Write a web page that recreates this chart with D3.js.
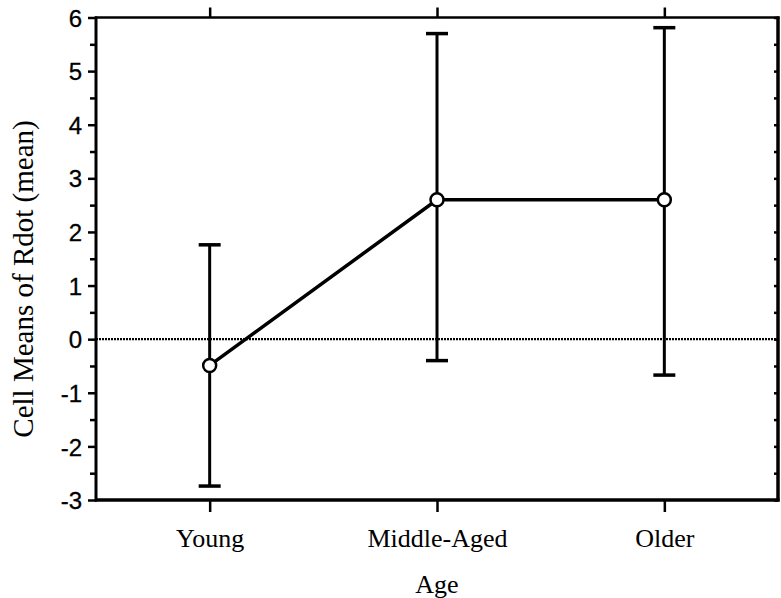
<!DOCTYPE html>
<html>
<head>
<meta charset="utf-8">
<script src="https://cdn.jsdelivr.net/npm/d3@7"></script>
<style>
  html, body { margin: 0; padding: 0; background: #fff; }
  svg { display: block; }
</style>
</head>
<body>
<svg id="chart" width="781" height="598"></svg>
<script>
const categories = ["Young", "Middle-Aged", "Older"];
const means = [-0.49, 2.6, 2.6];
const upper = [1.76, 5.7, 5.81];
const lower = [-2.74, -0.4, -0.67];
const yTicks = [-3, -2, -1, 0, 1, 2, 3, 4, 5, 6];
const yMinorTicks = [-2.5, -1.5, -0.5, 0.5, 1.5, 2.5, 3.5, 4.5, 5.5];
const xTitle = "Age";
const yTitle = "Cell Means of Rdot (mean)";

const svg = d3.select("#chart");
const pLeft = 96, pRight = 778, pTop = 17.5, pBottom = 500;

const x = d3.scalePoint().domain(categories).range([pLeft, pRight]).padding(0.5);
const y = d3.scaleLinear().domain([-3, 6]).range([pBottom, pTop]);

const serif = "'Liberation Serif', 'Times New Roman', serif";
const sans = "'Liberation Sans', Arial, Helvetica, sans-serif";

// zero reference line
svg.append("line")
  .attr("x1", pLeft).attr("x2", pRight)
  .attr("y1", y(0)).attr("y2", y(0))
  .attr("stroke", "#000").attr("stroke-width", 2.4)
  .attr("stroke-dasharray", "2,1");

// left axis
const yAxis = d3.axisLeft(y).tickValues(yTicks).tickSize(8).tickPadding(6).tickFormat(d => String(d));
const gy = svg.append("g").attr("transform", `translate(${pLeft},0)`).call(yAxis);
gy.select(".domain").remove();
gy.selectAll(".tick line").attr("stroke", "#000").attr("stroke-width", 2.5);
gy.selectAll(".tick text").attr("font-family", sans).attr("font-size", 24).attr("fill", "#000")
  .attr("stroke", "#000").attr("stroke-width", 0.3).attr("dy", "0.36em");
const gyMinor = svg.append("g").attr("transform", `translate(${pLeft},0)`)
  .call(d3.axisLeft(y).tickValues(yMinorTicks).tickSize(6).tickFormat(""));
gyMinor.select(".domain").remove();
gyMinor.selectAll(".tick line").attr("stroke", "#000").attr("stroke-width", 2.5);

// right axis (inward ticks)
const gr = svg.append("g").attr("transform", `translate(${pRight},0)`)
  .call(d3.axisLeft(y).tickValues(yTicks.concat(yMinorTicks)).tickSize(0).tickFormat(""));
gr.select(".domain").remove();
gr.selectAll(".tick line").attr("x2", -4).attr("stroke", "#000").attr("stroke-width", 2.5);

// bottom axis
const gx = svg.append("g").attr("transform", `translate(0,${pBottom})`)
  .call(d3.axisBottom(x).tickSize(12).tickPadding(16));
gx.select(".domain").remove();
gx.selectAll(".tick line").attr("stroke", "#000").attr("stroke-width", 2.5);
gx.selectAll(".tick text").attr("font-family", serif).attr("font-size", 26).attr("fill", "#000")
  .attr("y", 47).attr("dy", 0);

// top axis
const gt = svg.append("g").attr("transform", `translate(0,${pTop})`)
  .call(d3.axisTop(x).tickSize(10).tickFormat(""));
gt.select(".domain").remove();
gt.selectAll(".tick line").attr("stroke", "#000").attr("stroke-width", 2.5);

// frame
svg.append("line").attr("x1", pLeft).attr("x2", pLeft).attr("y1", pTop - 1).attr("y2", pBottom + 1.5)
  .attr("stroke", "#000").attr("stroke-width", 3);
svg.append("line").attr("x1", pRight).attr("x2", pRight).attr("y1", pTop - 1).attr("y2", pBottom + 1.5)
  .attr("stroke", "#000").attr("stroke-width", 3.5);
svg.append("line").attr("x1", pLeft - 1).attr("x2", pRight + 1.5).attr("y1", pTop).attr("y2", pTop)
  .attr("stroke", "#000").attr("stroke-width", 2.5);
svg.append("line").attr("x1", pLeft - 1).attr("x2", pRight + 1.5).attr("y1", pBottom).attr("y2", pBottom)
  .attr("stroke", "#000").attr("stroke-width", 3.5);

// error bars
const data = categories.map((c, i) => ({ c, m: means[i], hi: upper[i], lo: lower[i] }));
const eb = svg.append("g");
eb.selectAll("line.v").data(data).join("line").attr("class", "v")
  .attr("x1", d => x(d.c)).attr("x2", d => x(d.c))
  .attr("y1", d => y(d.hi)).attr("y2", d => y(d.lo))
  .attr("stroke", "#000").attr("stroke-width", 3);
eb.selectAll("line.hi").data(data).join("line").attr("class", "hi")
  .attr("x1", d => x(d.c) - 11).attr("x2", d => x(d.c) + 11)
  .attr("y1", d => y(d.hi)).attr("y2", d => y(d.hi))
  .attr("stroke", "#000").attr("stroke-width", 3.5);
eb.selectAll("line.lo").data(data).join("line").attr("class", "lo")
  .attr("x1", d => x(d.c) - 11).attr("x2", d => x(d.c) + 11)
  .attr("y1", d => y(d.lo)).attr("y2", d => y(d.lo))
  .attr("stroke", "#000").attr("stroke-width", 3.5);

// mean line
svg.append("path").datum(data)
  .attr("d", d3.line().x(d => x(d.c)).y(d => y(d.m)))
  .attr("fill", "none").attr("stroke", "#000").attr("stroke-width", 3.5);

// markers
svg.append("g").selectAll("circle").data(data).join("circle")
  .attr("cx", d => x(d.c)).attr("cy", d => y(d.m)).attr("r", 6.5)
  .attr("fill", "#fff").attr("stroke", "#000").attr("stroke-width", 2.5);

// titles
svg.append("text").attr("x", x(categories[1])).attr("y", 593)
  .attr("text-anchor", "middle").attr("font-family", serif).attr("font-size", 26)
  .attr("fill", "#000").text(xTitle);
svg.append("text")
  .attr("transform", `translate(33,279) rotate(-90)`)
  .attr("text-anchor", "middle").attr("font-family", serif).attr("font-size", 29)
  .attr("fill", "#000").text(yTitle);
</script>
</body>
</html>
